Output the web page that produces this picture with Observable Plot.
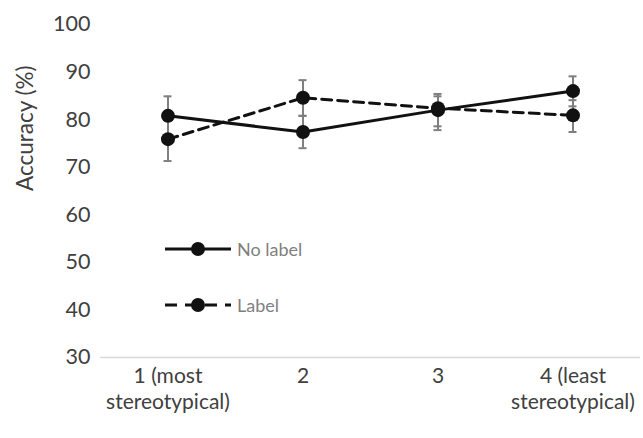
<!DOCTYPE html>
<html><head><meta charset="utf-8">
<script src="https://cdn.jsdelivr.net/npm/d3@7"></script>
<script src="https://cdn.jsdelivr.net/npm/@observablehq/plot@0.6"></script>
<style>
body{margin:0;background:#fff;}
#wrap{position:relative;width:643px;height:438px;font-family:Lato,"Open Sans",sans-serif;}
.leg{position:absolute;left:165px;display:flex;align-items:center;font-size:18px;color:#7f7f7f;}
</style></head>
<body><div id="wrap"></div>
<script>
const categories = ["1 (most\nstereotypical)", "2", "3", "4 (least\nstereotypical)"];
const seriesNames = ["No label", "Label"];
const noLabel = [80.8, 77.4, 82.0, 86.0];
const noLabelLow = [76.6, 74.0, 78.6, 82.8];
const noLabelHigh = [84.9, 80.8, 85.4, 89.1];
const label = [75.9, 84.6, 82.4, 80.9];
const labelLow = [71.3, 80.8, 77.8, 77.4];
const labelHigh = [80.4, 88.3, 84.9, 84.1];
const yTicks = [30, 40, 50, 60, 70, 80, 90, 100];

const rows = [];
categories.forEach((c, i) => {
  rows.push({cat: c, series: seriesNames[0], v: noLabel[i], lo: noLabelLow[i], hi: noLabelHigh[i]});
  rows.push({cat: c, series: seriesNames[1], v: label[i], lo: labelLow[i], hi: labelHigh[i]});
});
const nl = rows.filter(d => d.series === "No label");
const lb = rows.filter(d => d.series === "Label");

const chart = Plot.plot({
  width: 643, height: 438,
  marginLeft: 100, marginRight: 3, marginTop: 24, marginBottom: 81,
  style: {fontFamily: "Lato, 'Open Sans', sans-serif", fontSize: "21px", color: "#404040", background: "#fff"},
  x: {domain: categories, padding: 0, label: null},
  y: {domain: [30, 100], label: null},
  marks: [
    Plot.ruleY([30], {stroke: "#d9d9d9", strokeWidth: 1.5}),
    Plot.axisY({ticks: yTicks, tickSize: 0, tickPadding: 10, label: null, fontSize: 21.5, fill: "#404040"}),
    Plot.axisX({tickSize: 0, tickPadding: 8, label: null, fontSize: 21, lineHeight: 1.2, fill: "#404040"}),
    Plot.text(["Accuracy (%)"], {frameAnchor: "left", dx: -75, rotate: -90, fontSize: 22.5, fill: "#404040"}),
    Plot.ruleX(rows, {x: "cat", y1: "lo", y2: "hi", stroke: "#7f7f7f", strokeWidth: 2}),
    Plot.tickY(rows, {x: "cat", y: "lo", stroke: "#7f7f7f", strokeWidth: 2, insetLeft: 63.5, insetRight: 63.5}),
    Plot.tickY(rows, {x: "cat", y: "hi", stroke: "#7f7f7f", strokeWidth: 2, insetLeft: 63.5, insetRight: 63.5}),
    Plot.line(lb, {x: "cat", y: "v", stroke: "#111", strokeWidth: 3, strokeDasharray: "10,6"}),
    Plot.line(nl, {x: "cat", y: "v", stroke: "#111", strokeWidth: 3}),
    Plot.dot(rows, {x: "cat", y: "v", r: 7, fill: "#111", stroke: "none"})
  ]
});
const wrap = document.getElementById("wrap");
wrap.appendChild(chart);

function legRow(name, top, dashed) {
  const d = document.createElement("div");
  d.className = "leg";
  d.style.top = top + "px";
  d.innerHTML = `<svg width="72" height="16" style="display:block"><line x1="0" x2="66" y1="8" y2="8" stroke="#111" stroke-width="3" ${dashed ? 'stroke-dasharray="12,8"' : ''}/><circle cx="33" cy="8" r="7" fill="#111"/></svg><span>${name}</span>`;
  wrap.appendChild(d);
}
legRow(seriesNames[0], 238, false);
legRow(seriesNames[1], 294, true);
</script></body></html>
